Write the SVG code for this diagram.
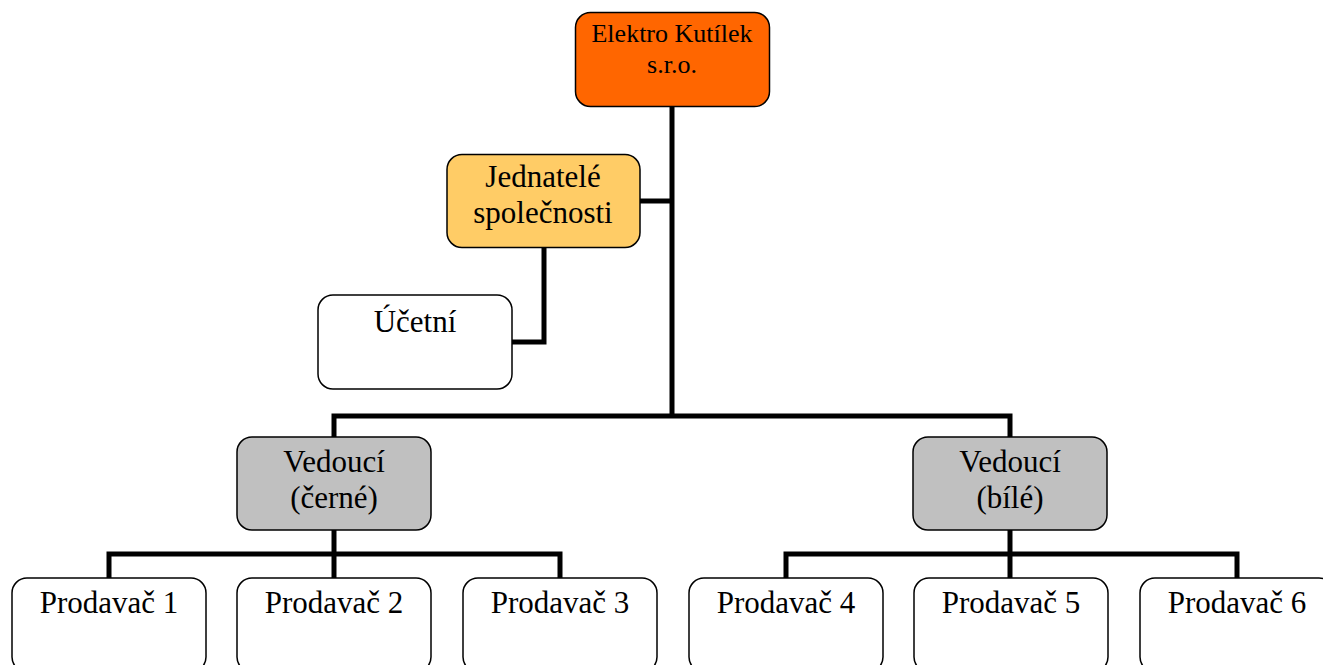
<svg xmlns="http://www.w3.org/2000/svg" width="1323" height="665" viewBox="0 0 1323 665">
<style>
.box{stroke:#000;stroke-width:1.5}
.t{font-family:"Liberation Serif","Times New Roman",serif;font-size:31px;fill:#000;text-anchor:middle}
.ts{font-size:26px}
.c{fill:none;stroke:#000;stroke-width:5;stroke-linejoin:miter;stroke-linecap:butt}
</style>
<rect width="1323" height="665" fill="#fff"/>
<g id="connectors">
<path class="c" d="M672,107 V416"/>
<path class="c" d="M640,201 H672"/>
<path class="c" d="M544,248 V342 H512"/>
<path class="c" d="M334,437 V416 H1010 V437"/>
<path class="c" d="M334,530 V578"/>
<path class="c" d="M109,578 V554 H560 V578"/>
<path class="c" d="M1010,530 V578"/>
<path class="c" d="M786,578 V554 H1237 V578"/>
</g>
<g id="n-top">
<rect class="box" x="575.5" y="12.5" width="194" height="94" rx="15" fill="#FF6600"/>
<text class="t ts" x="672" y="42">Elektro Kutílek</text>
<text class="t ts" x="672" y="73">s.r.o.</text>
</g>
<g id="n-jednatele">
<rect class="box" x="447" y="154.5" width="193" height="93" rx="15" fill="#FFCC66"/>
<text class="t" x="543" y="187">Jednatelé</text>
<text class="t" x="543" y="223">společnosti</text>
</g>
<g id="n-ucetni">
<rect class="box" x="318" y="295" width="194" height="94" rx="15" fill="#fff"/>
<text class="t" x="415" y="332">Účetní</text>
</g>
<g id="n-ved-cerne">
<rect class="box" x="237" y="437" width="194" height="93" rx="15" fill="#C0C0C0"/>
<text class="t" x="334" y="472">Vedoucí</text>
<text class="t" x="334" y="508">(černé)</text>
</g>
<g id="n-ved-bile">
<rect class="box" x="913" y="437" width="194" height="93" rx="15" fill="#C0C0C0"/>
<text class="t" x="1010" y="472">Vedoucí</text>
<text class="t" x="1010" y="508">(bílé)</text>
</g>
<g id="n-p1">
<rect class="box" x="12" y="578" width="194" height="94" rx="15" fill="#fff"/>
<text class="t" x="109" y="613">Prodavač 1</text>
</g>
<g id="n-p2">
<rect class="box" x="237" y="578" width="194" height="94" rx="15" fill="#fff"/>
<text class="t" x="334" y="613">Prodavač 2</text>
</g>
<g id="n-p3">
<rect class="box" x="463" y="578" width="194" height="94" rx="15" fill="#fff"/>
<text class="t" x="560" y="613">Prodavač 3</text>
</g>
<g id="n-p4">
<rect class="box" x="689" y="578" width="194" height="94" rx="15" fill="#fff"/>
<text class="t" x="786" y="613">Prodavač 4</text>
</g>
<g id="n-p5">
<rect class="box" x="914" y="578" width="194" height="94" rx="15" fill="#fff"/>
<text class="t" x="1011" y="613">Prodavač 5</text>
</g>
<g id="n-p6">
<rect class="box" x="1140" y="578" width="194" height="94" rx="15" fill="#fff"/>
<text class="t" x="1237" y="613">Prodavač 6</text>
</g>
</svg>
